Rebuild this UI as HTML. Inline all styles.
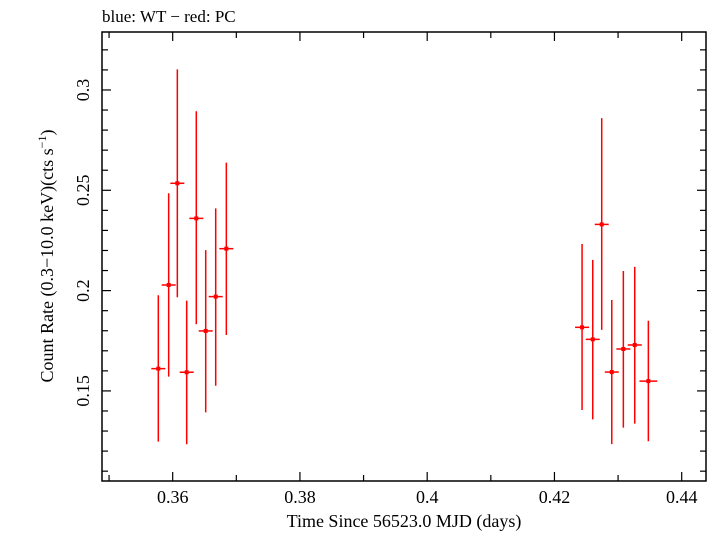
<!DOCTYPE html>
<html><head><meta charset="utf-8"><style>
body{margin:0;background:#fff;}
svg text{font-family:"Liberation Serif",serif;fill:#000;}
</style></head><body>
<svg width="714" height="532" id="c">
<text x="102" y="22" font-size="17">blue: WT − red: PC</text>
<text x="404" y="527" font-size="18" text-anchor="middle">Time Since 56523.0 MJD (days)</text>
<text transform="translate(53,256) rotate(-90)" font-size="18" text-anchor="middle">Count Rate (0.3−10.0 keV)(cts s<tspan font-size="12" dy="-7">−1</tspan><tspan dy="7">)</tspan></text>
<rect x="102" y="32" width="604" height="449" fill="none" stroke="#000" stroke-width="1.5"/>
<g id="ticks"></g>
<g id="marks"></g>
</svg>
<script>
const xs=[0.35774,0.35937,0.36073,0.36220,0.36371,0.36519,0.36676,0.36843,0.42434,0.42602,0.42743,0.42901,0.43083,0.43262,0.43476];
const ys=[0.1611,0.2028,0.2535,0.1593,0.2360,0.1799,0.1970,0.2209,0.1817,0.1757,0.2330,0.1594,0.1709,0.1729,0.1549];
const yHi=[0.1977,0.2485,0.3103,0.1950,0.2894,0.2202,0.2410,0.2638,0.2232,0.2153,0.2860,0.1953,0.2098,0.2118,0.1850];
const yLo=[0.1247,0.1571,0.1967,0.1234,0.1832,0.1393,0.1526,0.1779,0.1405,0.1358,0.1804,0.1235,0.1317,0.1337,0.1249];
const xErr=[0.0011,0.0011,0.0011,0.0011,0.0011,0.0011,0.0011,0.0011,0.0011,0.0011,0.0011,0.0011,0.0011,0.0011,0.0014];
const xTickLabels=["0.36","0.38","0.4","0.42","0.44"];
const yTickLabels=["0.15","0.2","0.25","0.3"];
const X0=0.34889,X1=0.44382,Y0=0.1051,Y1=0.3289;
const L=102,R=706,T=32,B=481;
const sx=v=>L+(v-X0)/(X1-X0)*(R-L);
const sy=v=>B-(v-Y0)/(Y1-Y0)*(B-T);
const NS="http://www.w3.org/2000/svg";
function mk(tag,attrs,parent){const e=document.createElementNS(NS,tag);for(const k in attrs)e.setAttribute(k,attrs[k]);parent.appendChild(e);return e;}
const tg=document.getElementById('ticks'),mg=document.getElementById('marks');
for(let i=35;i<=44;i++){const v=i/100,x=sx(v),maj=i%2==0,len=maj?9:6;
 let a=mk('line',{x1:x,x2:x,y1:B,y2:B-len,stroke:'#000','stroke-width':1.2},tg);
 
 let b=mk('line',{x1:x,x2:x,y1:T,y2:T+len,stroke:'#000','stroke-width':1.2},tg);
 }
xTickLabels.forEach(s=>{const t=mk('text',{x:sx(parseFloat(s)),y:503,'font-size':18,'text-anchor':'middle'},tg);t.textContent=s;
 });
for(let i=11;i<=32;i++){const v=i/100,y=sy(v),maj=i%5==0,len=maj?9:6;
 let a=mk('line',{x1:L,x2:L+len,y1:y,y2:y,stroke:'#000','stroke-width':1.2},tg);
 
 let b=mk('line',{x1:R,x2:R-len,y1:y,y2:y,stroke:'#000','stroke-width':1.2},tg);
 }
yTickLabels.forEach(s=>{const y=sy(parseFloat(s));const t=mk('text',{transform:`translate(89,${y}) rotate(-90)`,'font-size':18,'text-anchor':'middle'},tg);t.textContent=s;
 });
xs.forEach((v,i)=>{const g=mk('g',{},mg);
 
 const x=sx(v),y=sy(ys[i]);
 mk('line',{x1:x,x2:x,y1:sy(yHi[i]),y2:sy(yLo[i]),stroke:'#f00','stroke-width':1.5},g);
 mk('line',{x1:sx(v-xErr[i]),x2:sx(v+xErr[i]),y1:y,y2:y,stroke:'#f00','stroke-width':1.5},g);
 mk('rect',{x:x-2,y:y-2,width:4,height:4,fill:'#f00'},g);});
</script>
</body></html>
